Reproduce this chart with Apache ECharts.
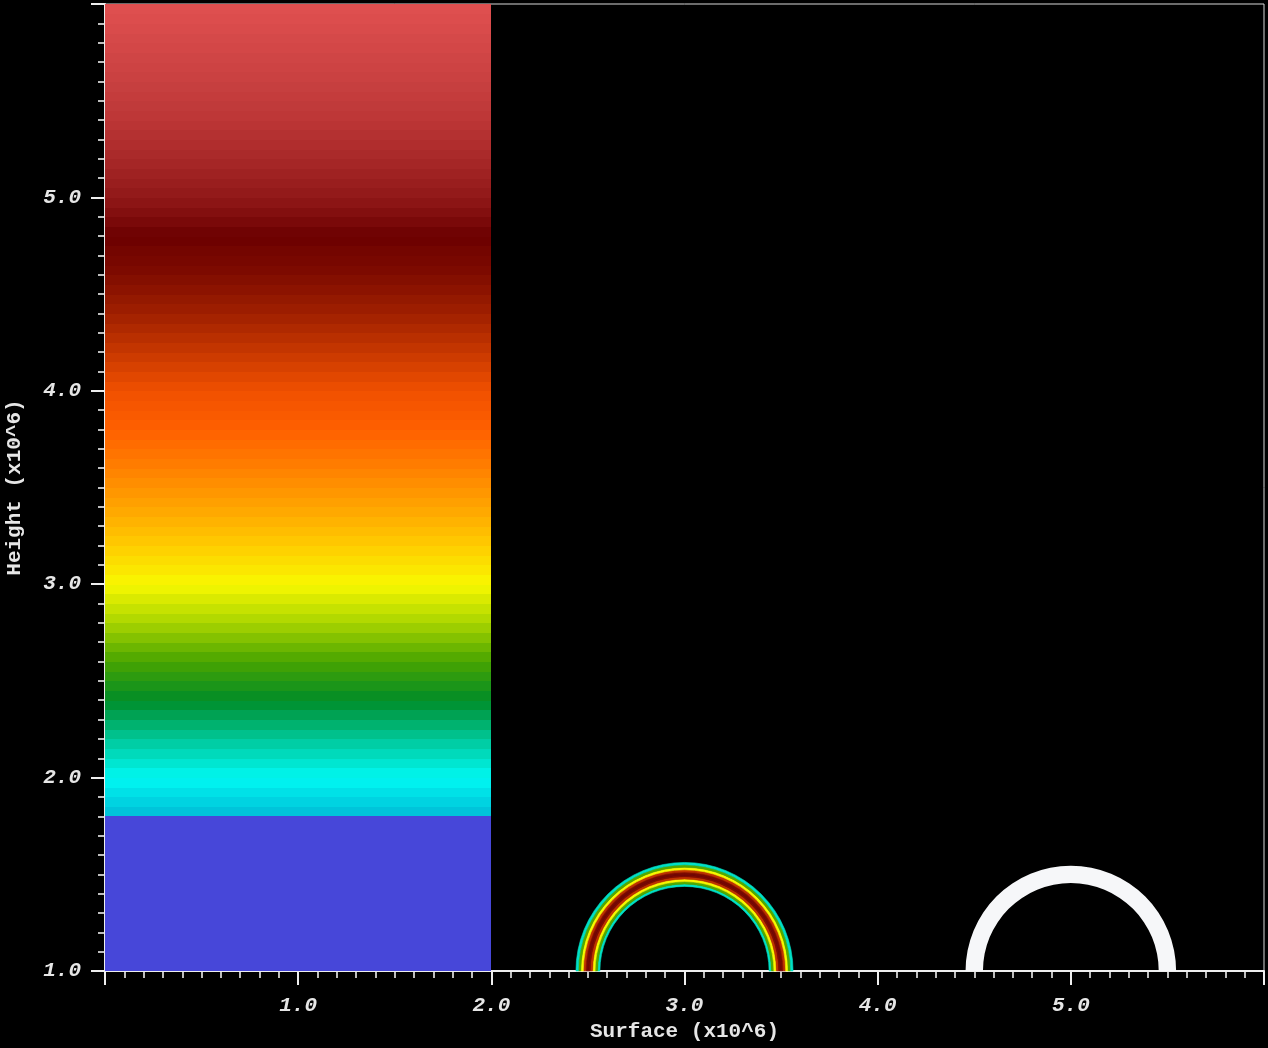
<!DOCTYPE html>
<html>
<head>
<meta charset="utf-8">
<script src="https://cdn.jsdelivr.net/npm/echarts@6/dist/echarts.min.js"></script>
<style>
  html, body { margin: 0; padding: 0; background: #000; }
  #chart { width: 1268px; height: 1048px; }
</style>
</head>
<body>
<div id="chart"></div>
<script>
// Tick labels shown on each axis
const xTickLabels = ['1.0', '2.0', '3.0', '4.0', '5.0'];
const yTickLabels = ['1.0', '2.0', '3.0', '4.0', '5.0'];

// Height strip: horizontal level bands between these edges (x from 0 to 2)
const stripX = [0.0, 2.0];
const stripEdges = [
  1.80, 1.85, 1.90, 1.95, 2.00, 2.05, 2.10, 2.15, 2.20, 2.25,
  2.30, 2.35, 2.40, 2.45, 2.50, 2.55, 2.60, 2.65, 2.70, 2.75,
  2.80, 2.85, 2.90, 2.95, 3.00, 3.05, 3.10, 3.15, 3.20, 3.25,
  3.30, 3.35, 3.40, 3.45, 3.50, 3.55, 3.60, 3.65, 3.70, 3.75,
  3.80, 3.85, 3.90, 3.95, 4.00, 4.05, 4.10, 4.15, 4.20, 4.25,
  4.30, 4.35, 4.40, 4.45, 4.50, 4.55, 4.60, 4.65, 4.70, 4.75,
  4.80, 4.85, 4.90, 4.95, 5.00, 5.05, 5.10, 5.15, 5.20, 5.25,
  5.30, 5.35, 5.40, 5.45, 5.50, 5.55, 5.60, 5.65, 5.70, 5.75,
  5.80, 5.85, 5.90, 5.95, 6.00
];
// Base block below the lowest level
const baseBlock = [1.0, 1.8];

// Layered half ring centred on the surface
const ringCenter = [3.0, 1.0];
const ringEdges = [
  0.438, 0.450, 0.463, 0.476, 0.488, 0.496, 0.504,
  0.512, 0.524, 0.537, 0.550, 0.562
];
const ringLevels = [2.1, 2.62, 3.0, 4.25, 4.6, 4.85, 4.6, 4.25, 3.0, 2.62, 2.1];

// Plain half ring
const plainRingCenter = [5.0, 1.0];
const plainRingRadii = [0.455, 0.545];

// ---- build series data ----
const stripData = [];
for (let i = 0; i < stripEdges.length - 1; i++) {
  const lo = stripEdges[i], hi = stripEdges[i + 1];
  stripData.push([stripX[0], lo, stripX[1], hi, (lo + hi) / 2]);
}
const ringData = [];
for (let i = 0; i < ringLevels.length; i++) {
  ringData.push([ringCenter[0], ringCenter[1], ringEdges[i], ringEdges[i + 1], ringLevels[i]]);
}

function renderBand(params, api) {
  const a = api.coord([api.value(0), api.value(3)]);
  const b = api.coord([api.value(2), api.value(1)]);
  const x0 = Math.round(a[0]), y0 = Math.floor(a[1]);
  const x1 = Math.round(b[0]), y1 = Math.ceil(b[1]);
  return {
    type: 'rect',
    shape: { x: x0, y: y0, width: x1 - x0, height: y1 - y0 },
    style: { fill: api.visual('color') }
  };
}

function renderHalfRing(params, api) {
  const c = api.coord([api.value(0), api.value(1)]);
  const rIn = api.size([api.value(2), 0])[0];
  const rOut = api.size([api.value(3), 0])[0];
  const color = api.visual('color');
  return {
    type: 'sector',
    shape: { cx: c[0], cy: c[1], r0: rIn, r: rOut, startAngle: Math.PI, endAngle: 2 * Math.PI, clockwise: true },
    style: { fill: color, stroke: color, lineWidth: 0.6 }
  };
}

const textColor = '#e6e6e6';
const lineColor = '#eeeeee';
const monoFont = '"Liberation Mono", "DejaVu Sans Mono", monospace';

function tickFormatter(list) {
  return function (v) {
    const s = v.toFixed(1);
    return list.indexOf(s) >= 0 ? s : '';
  };
}

const axisCommon = {
  type: 'value',
  interval: 1,
  axisLine: { show: true, onZero: false, lineStyle: { color: lineColor, width: 2 } },
  axisTick: { show: true, length: 14, lineStyle: { color: lineColor, width: 2 } },
  minorTick: { show: true, splitNumber: 10, length: 7, lineStyle: { color: lineColor, width: 1.6 } },
  splitLine: { show: false },
  minorSplitLine: { show: false },
  nameLocation: 'middle',
  nameTextStyle: { color: textColor, fontFamily: monoFont, fontWeight: 'bold', fontSize: 21 }
};

const chart = echarts.init(document.getElementById('chart'), null, { renderer: 'canvas' });
chart.setOption({
  backgroundColor: '#000000',
  animation: false,
  grid: {
    left: 105, right: 4, top: 4, bottom: 77,
    show: true, borderColor: '#d8d8d8', borderWidth: 1,
    outerBoundsMode: 'none'
  },
  xAxis: Object.assign({}, axisCommon, {
    min: 0, max: 6,
    name: 'Surface (x10^6)',
    nameGap: 49,
    axisLabel: {
      margin: 24, color: textColor, fontFamily: monoFont, fontWeight: 'bold',
      fontStyle: 'italic', fontSize: 21, formatter: tickFormatter(xTickLabels)
    }
  }),
  yAxis: Object.assign({}, axisCommon, {
    min: 1, max: 6,
    name: 'Height (x10^6)',
    nameGap: 80,
    axisLabel: {
      margin: 24, color: textColor, fontFamily: monoFont, fontWeight: 'bold',
      fontStyle: 'italic', fontSize: 21, formatter: tickFormatter(yTickLabels)
    }
  }),
  visualMap: {
    type: 'continuous',
    show: false,
    min: 1.8,
    max: 6.0,
    dimension: 4,
    seriesIndex: [0, 1],
    inRange: {
      color: [
        '#00bcd6', '#00f8f2', '#00c89a', '#008c28', '#48a400', '#a8d400',
        '#f8f800', '#ffcc00', '#ffa400', '#ff8000', '#ff6000', '#f05000',
        '#c83800', '#a02000', '#800c00', '#6c0000', '#901818', '#a82828',
        '#bc3636', '#c84040', '#d44848', '#e05050'
      ]
    }
  },
  series: [
    {
      type: 'custom',
      name: 'strip',
      renderItem: renderBand,
      encode: { x: [0, 2], y: [1, 3] },
      data: stripData,
      silent: true
    },
    {
      type: 'custom',
      name: 'ring',
      renderItem: renderHalfRing,
      encode: { x: 0, y: 1 },
      data: ringData,
      silent: true
    },
    {
      type: 'custom',
      name: 'base',
      renderItem: function (params, api) {
        const a = api.coord([api.value(0), api.value(3)]);
        const b = api.coord([api.value(2), api.value(1)]);
        return {
          type: 'rect',
          shape: { x: Math.round(a[0]), y: Math.round(a[1]), width: Math.round(b[0]) - Math.round(a[0]), height: b[1] - Math.round(a[1]) },
          style: { fill: '#4747d9' }
        };
      },
      encode: { x: [0, 2], y: [1, 3] },
      data: [[stripX[0], baseBlock[0], stripX[1], baseBlock[1]]],
      silent: true
    },
    {
      type: 'custom',
      name: 'plainRing',
      renderItem: function (params, api) {
        const c = api.coord([api.value(0), api.value(1)]);
        const rIn = api.size([api.value(2), 0])[0];
        const rOut = api.size([api.value(3), 0])[0];
        return {
          type: 'sector',
          shape: { cx: c[0], cy: c[1], r0: rIn, r: rOut, startAngle: Math.PI, endAngle: 2 * Math.PI, clockwise: true },
          style: { fill: '#f6f7f9' }
        };
      },
      encode: { x: 0, y: 1 },
      data: [[plainRingCenter[0], plainRingCenter[1], plainRingRadii[0], plainRingRadii[1]]],
      silent: true
    }
  ]
});
</script>
</body>
</html>
